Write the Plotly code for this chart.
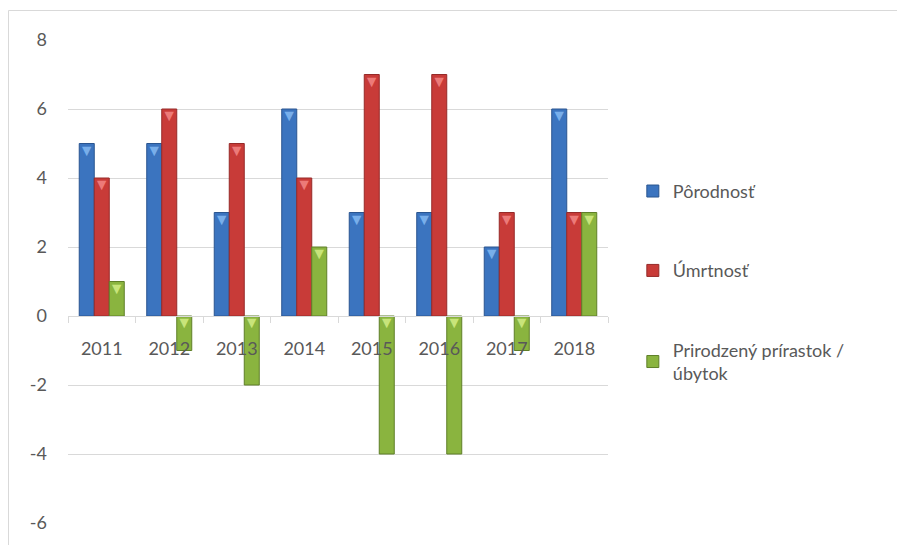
import plotly.graph_objects as go

years = ["2011", "2012", "2013", "2014", "2015", "2016", "2017", "2018"]
porodnost = [5, 5, 3, 6, 3, 3, 2, 6]
umrtnost = [4, 6, 5, 4, 7, 7, 3, 3]
prirastok = [1, -1, -2, 2, -4, -4, -1, 3]
y_ticks = [-6, -4, -2, 0, 2, 4, 6, 8]
y_ticklabels = ["-6", "-4", "-2", "0", "2", "4", "6", "8"]

names = ["Pôrodnosť", "Úmrtnosť", "Prirodzený prírastok /<br>úbytok"]
series = [porodnost, umrtnost, prirastok]
fills = ["#3b74bf", "#c83b38", "#8ab43f"]
edges = ["#2a5590", "#962a28", "#5f7f28"]
tops = ["#78aeea", "#ec7a78", "#c8e47a"]

FONT = "Lato, 'Open Sans', sans-serif"
fig = go.Figure()
for i, (nm, vals) in enumerate(zip(names, series)):
    fig.add_trace(go.Bar(
        x=years, y=vals, name=nm, offsetgroup=str(i), legendgroup=str(i),
        marker=dict(color=fills[i], line=dict(color=edges[i], width=1)),
    ))
for i, vals in enumerate(series):
    fig.add_trace(go.Scatter(
        x=years, y=[max(v, 0) for v in vals], mode="text", text=["▼"] * len(vals),
        textposition="bottom center", textfont=dict(color=tops[i], size=16),
        offsetgroup=str(i), showlegend=False, hoverinfo="skip", cliponaxis=False,
    ))

# page is rendered with an 8px body margin; margins compensate for it
fig.update_layout(
    width=905, height=545,
    margin=dict(l=60, r=305, t=32, b=30),
    paper_bgcolor="white", plot_bgcolor="white",
    barmode="group", bargap=0.333, bargroupgap=0,
    scattermode="group", scattergap=0.333,
    font=dict(family=FONT, size=18, color="#595959"),
    showlegend=True,
    legend=dict(x=1.046, y=0.725, xanchor="left", yanchor="top",
                font=dict(size=18, color="#595959"), tracegroupgap=53,
                itemwidth=30, bgcolor="rgba(0,0,0,0)"),
    xaxis=dict(type="category", anchor="free", position=6 / 14,
               showline=True, linecolor="#d9d9d9", linewidth=1,
               ticks="outside", tickson="boundaries", ticklen=6, tickcolor="#d9d9d9",
               showgrid=False, ticklabelstandoff=16),
    yaxis=dict(range=[-6, 8], tickvals=y_ticks, ticktext=y_ticklabels,
               showgrid=True, gridcolor="#d9d9d9",
               zeroline=False, showline=False, ticks="", ticklabelstandoff=20),
    shapes=[dict(type="rect", xref="paper", yref="paper",
                 x0=(8.5 - 68) / 540, x1=1.7, y0=-0.2, y1=(523 - 10.5) / 483,
                 line=dict(color="#d9d9d9", width=1), layer="below")],
)
fig.write_html("out.html")
